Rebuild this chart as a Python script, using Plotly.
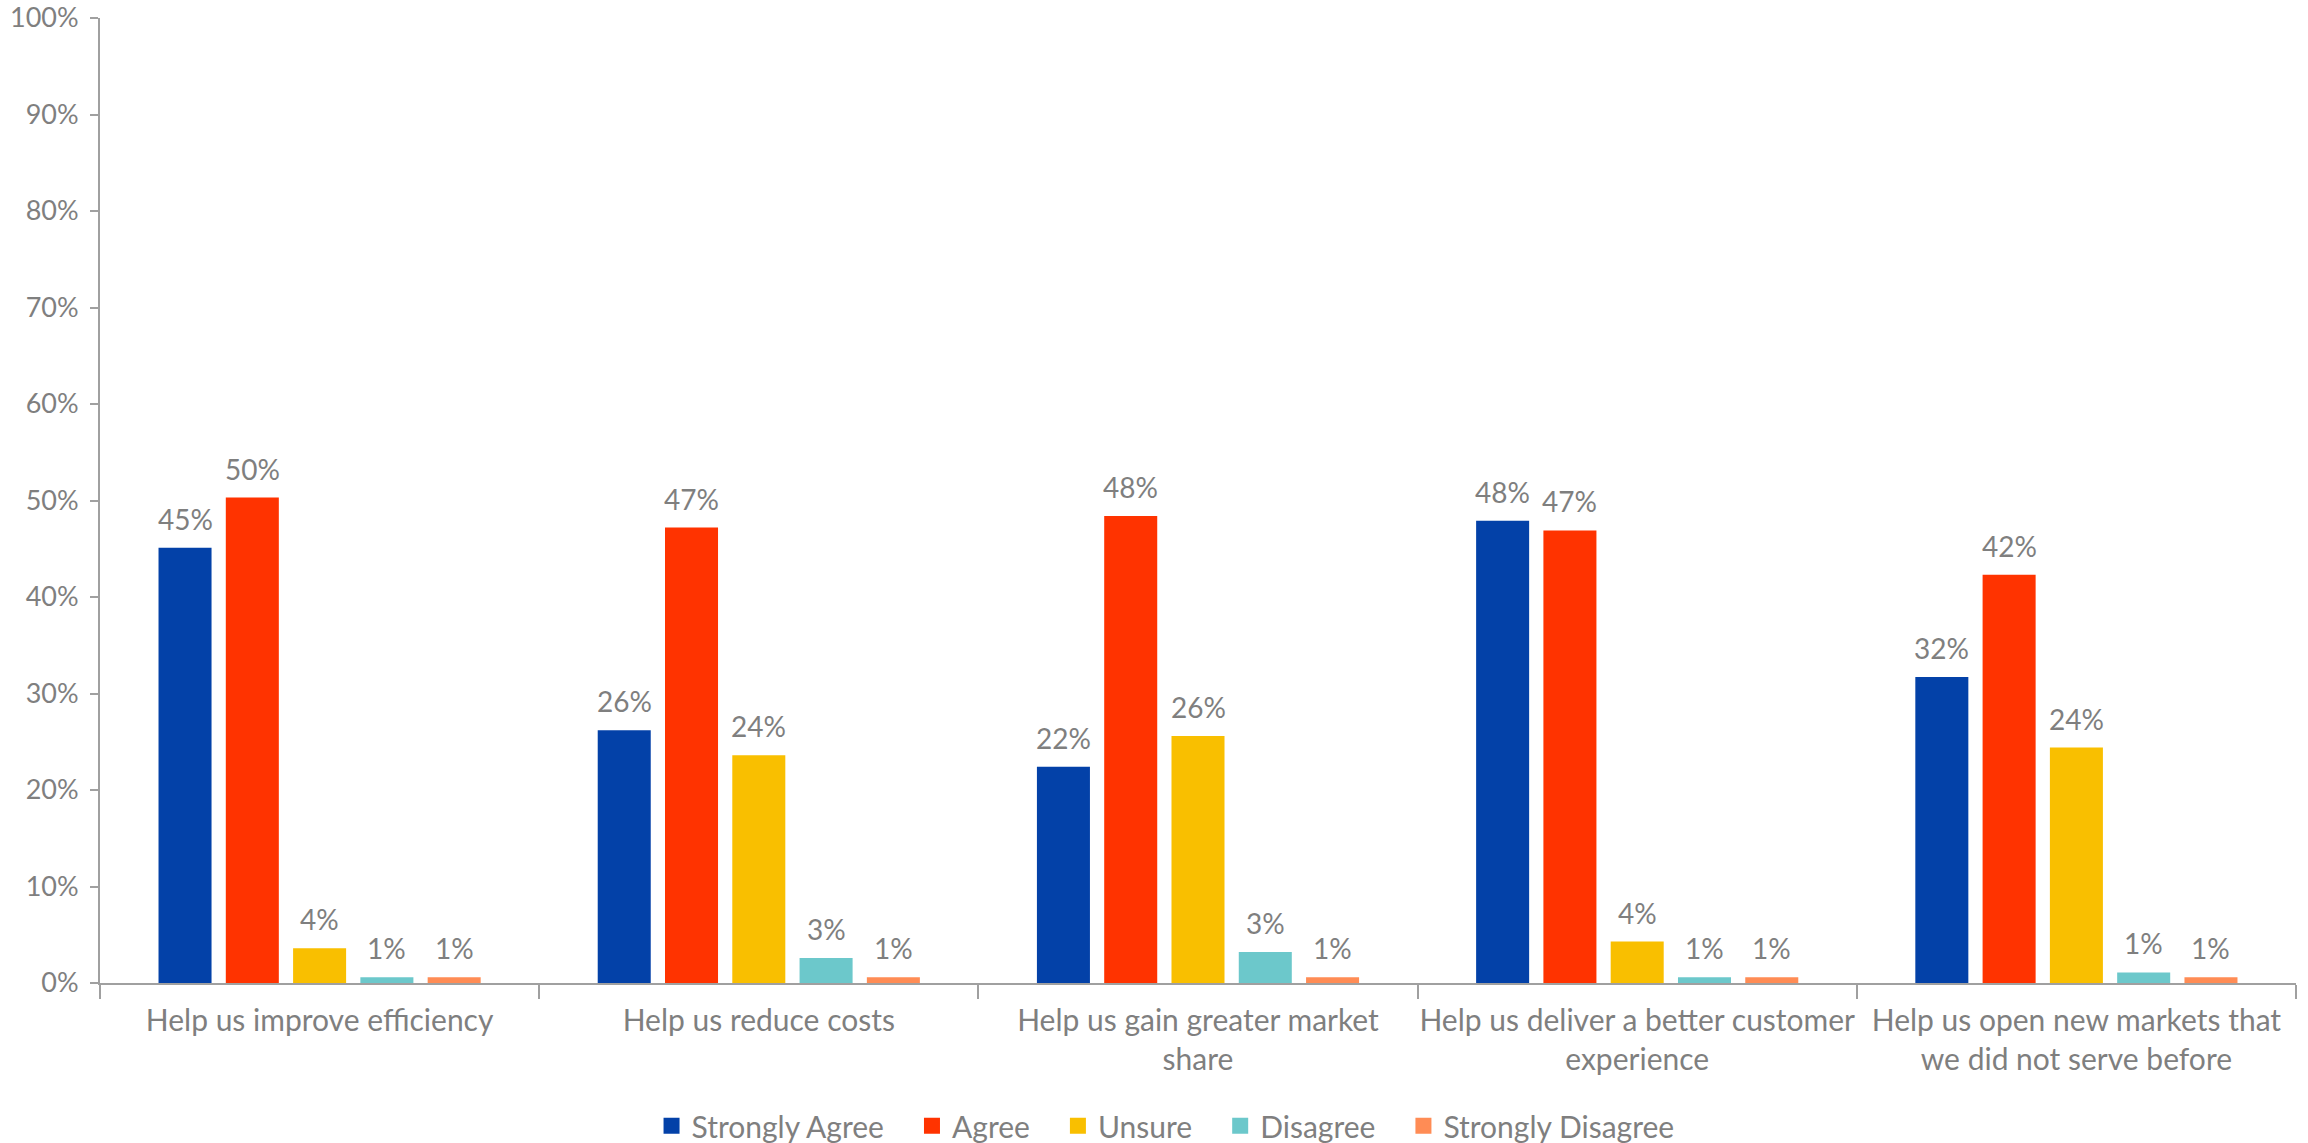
import plotly.graph_objects as go

# Survey statements (x categories)
categories = [
    "Help us improve efficiency",
    "Help us reduce costs",
    "Help us gain greater market<br>share",
    "Help us deliver a better customer<br>experience",
    "Help us open new markets that<br>we did not serve before",
]

# Response shares, in percent
strongly_agree = [45.1, 26.2, 22.4, 47.9, 31.7]
agree = [50.3, 47.2, 48.4, 46.9, 42.3]
unsure = [3.6, 23.6, 25.6, 4.3, 24.4]
disagree = [0.6, 2.6, 3.2, 0.6, 1.1]
strongly_disagree = [0.6, 0.6, 0.6, 0.6, 0.6]

series_names = ["Strongly Agree", "Agree", "Unsure", "Disagree", "Strongly Disagree"]
series_values = [strongly_agree, agree, unsure, disagree, strongly_disagree]
series_colors = ["#0341A8", "#FF3300", "#F9BF00", "#6CC8CB", "#FF8C55"]

FONT = "Lato"
TEXT_GRAY = "#7F7F7F"
AXIS_GRAY = "#A0A0A0"
BARGAP = 0.234
BARGROUPGAP = 0.212
LEGEND_PAD = "\u00a0" * 3  # extra room between legend entries

fig = go.Figure()
for name, vals, col in zip(series_names, series_values, series_colors):
    fig.add_trace(go.Bar(
        name=name,
        x=categories,
        y=vals,
        marker=dict(color=col, line=dict(width=0)),
        showlegend=False,
    ))

# Legend entries with larger square swatches
for k, (name, col) in enumerate(zip(series_names, series_colors)):
    label = name + (LEGEND_PAD if k < len(series_names) - 1 else "")
    fig.add_trace(go.Scatter(
        name=label,
        x=[None], y=[None],
        mode="markers",
        marker=dict(symbol="square", size=18, color=col, line=dict(width=0)),
        showlegend=True,
        hoverinfo="skip",
    ))

# Value labels above each bar, placed at the grouped bar centres
n = len(series_names)
slot = (1 - BARGAP) / n
annotations = []
for i, vals in enumerate(series_values):
    for j, v in enumerate(vals):
        annotations.append(dict(
            x=j + (i - (n - 1) / 2) * slot,
            y=v,
            xref="x", yref="y",
            text=f"{v:.0f}%",
            showarrow=False,
            yanchor="bottom",
            yshift=10,
            font=dict(family=FONT, size=28, color=TEXT_GRAY),
        ))

fig.update_layout(
    width=2308, height=1143,
    margin=dict(l=100, r=12, t=18, b=160),
    paper_bgcolor="white",
    plot_bgcolor="white",
    barmode="group",
    bargap=BARGAP,
    bargroupgap=BARGROUPGAP,
    font=dict(family=FONT, size=28, color=TEXT_GRAY),
    annotations=annotations,
    showlegend=True,
    legend=dict(
        orientation="h",
        xref="container", yref="container",
        x=0.505, xanchor="center",
        y=0.015, yanchor="middle",
        font=dict(family=FONT, size=30, color=TEXT_GRAY),
        itemwidth=30,
        traceorder="normal",
    ),
    xaxis=dict(
        type="category",
        automargin=False,
        tickangle=0,
        showline=True, linecolor=AXIS_GRAY, linewidth=2,
        ticks="outside", tickson="boundaries", ticklen=14,
        tickcolor=AXIS_GRAY, tickwidth=2,
        showgrid=False, zeroline=False,
        tickfont=dict(family=FONT, size=30, color=TEXT_GRAY),
        ticklabelstandoff=10,
    ),
    yaxis=dict(
        automargin=False,
        range=[0, 100],
        dtick=10,
        ticksuffix="%",
        showline=True, linecolor=AXIS_GRAY, linewidth=2,
        ticks="outside", ticklen=8, tickcolor=AXIS_GRAY, tickwidth=2,
        showgrid=False, zeroline=False,
        tickfont=dict(family=FONT, size=27, color=TEXT_GRAY),
        ticklabelstandoff=6,
        ticklabeloverflow="allow",
    ),
)

fig.write_html("out.html")
